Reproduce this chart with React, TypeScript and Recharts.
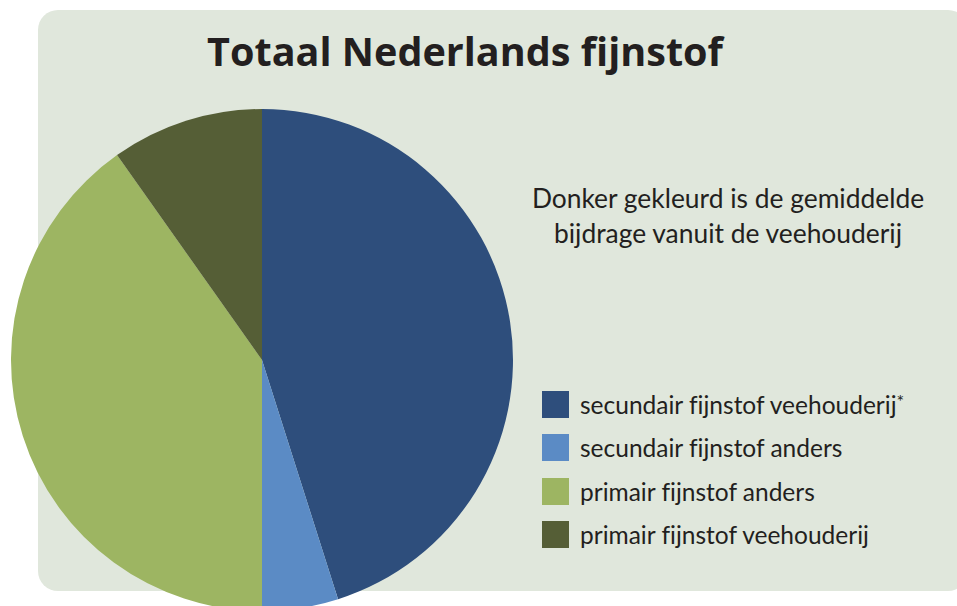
import { Pie, PieChart } from "recharts";

const categories = [
  "secundair fijnstof veehouderij*",
  "secundair fijnstof anders",
  "primair fijnstof anders",
  "primair fijnstof veehouderij",
];
const shares = [45.1, 4.9, 40.2, 9.8];
const colors = ["#2e4e7c", "#5b8bc5", "#9db562", "#555e36"];

const data = categories.map((name, i) => ({ name, value: shares[i], fill: colors[i] }));

const bodyFont = "Lato, 'Noto Sans', sans-serif";

function LegendBox() {
  return (
    <div style={{ fontFamily: bodyFont, fontVariantLigatures: "none" }}>
      {data.map((d) => {
        const star = d.name.endsWith("*");
        const label = star ? d.name.slice(0, -1) : d.name;
        return (
          <div key={d.name} style={{ display: "flex", alignItems: "center", height: 43.3 }}>
            <div style={{ width: 27, height: 27, background: d.fill, marginRight: 11, flexShrink: 0 }} />
            <span style={{ fontSize: 24.5, color: "#231f20", whiteSpace: "nowrap" }}>
              {label}
              {star && <sup style={{ fontSize: 18, verticalAlign: "6px", lineHeight: 0 }}>*</sup>}
            </span>
          </div>
        );
      })}
    </div>
  );
}

export default function App() {
  return (
    <div style={{ position: "absolute", left: 0, top: 0, width: 957, height: 606, overflow: "hidden", background: "#fff" }}>
      <div
        style={{
          position: "absolute",
          left: 38,
          top: 10,
          width: 930,
          height: 581,
          borderRadius: 20,
          background: "#e0e7dc",
        }}
      />
      <div
        style={{
          position: "absolute",
          left: 0,
          width: 930,
          top: 24,
          textAlign: "center",
          fontFamily: "'Open Sans', sans-serif",
          fontWeight: 700,
          fontSize: 39.6,
          color: "#231f20",
        }}
      >
        Totaal Nederlands fijnstof
      </div>
      <div
        style={{
          position: "absolute",
          left: 500,
          width: 456,
          top: 181,
          textAlign: "center",
          fontFamily: bodyFont,
          fontVariantLigatures: "none",
          fontSize: 26.4,
          lineHeight: "35px",
          color: "#231f20",
        }}
      >
        Donker gekleurd is de gemiddelde
        <br />
        bijdrage vanuit de veehouderij
      </div>
      <div style={{ position: "absolute", left: 0, top: 0 }}>
        <PieChart width={957} height={606} margin={{ top: 0, right: 0, bottom: 0, left: 0 }}>
          <Pie
            data={data}
            dataKey="value"
            nameKey="name"
            cx={262}
            cy={360}
            outerRadius={251}
            startAngle={90}
            endAngle={-270}
            stroke="none"
            isAnimationActive={false}
          />
        </PieChart>
      </div>
      <div style={{ position: "absolute", left: 542, top: 383 }}>
        <LegendBox />
      </div>
    </div>
  );
}
